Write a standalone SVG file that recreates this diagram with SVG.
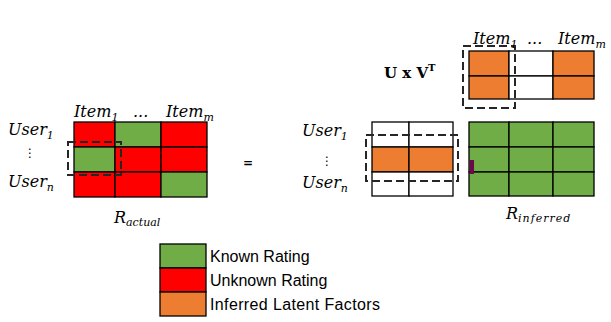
<svg xmlns="http://www.w3.org/2000/svg" width="611" height="322" viewBox="0 0 611 322">
<style>
.g{fill:#70ad47}.r{fill:#ff0000}.o{fill:#ed7d31}.w{fill:#ffffff}
.cell{stroke:#000;stroke-width:1.3}
.dash{fill:none;stroke:#262626;stroke-width:2;stroke-dasharray:8 4}
.m{font-family:"DejaVu Serif","Liberation Serif",serif;font-style:italic;font-size:16px;fill:#000}
.sub{font-size:11px}
.leg{font-family:"Liberation Sans",Arial,sans-serif;font-size:16px;fill:#000}
.dots{font-family:"DejaVu Sans",sans-serif;font-size:12px;fill:#000}
</style>
<rect width="611" height="322" fill="#ffffff"/>

<g id="r_actual">
  <rect class="r cell" x="74" y="122" width="41" height="25"/>
  <rect class="g cell" x="115" y="122" width="46" height="25"/>
  <rect class="r cell" x="161" y="122" width="46" height="25"/>
  <rect class="g cell" x="74" y="147" width="41" height="25"/>
  <rect class="r cell" x="115" y="147" width="46" height="25"/>
  <rect class="r cell" x="161" y="147" width="46" height="25"/>
  <rect class="r cell" x="74" y="172" width="41" height="25"/>
  <rect class="r cell" x="115" y="172" width="46" height="25"/>
  <rect class="g cell" x="161" y="172" width="46" height="25"/>
  <rect class="dash" x="68" y="142" width="53" height="33"/>
  <text class="m" x="74" y="116.5">Item<tspan class="sub" dy="4">1</tspan></text>
  <text class="m" x="133" y="117" font-style="normal" font-size="12">...</text>
  <text class="m" x="166" y="116.5">Item<tspan class="sub" dy="4">m</tspan></text>
  <text class="m" x="8" y="135">User<tspan class="sub" dy="4">1</tspan></text>
  <text class="dots" x="24" y="157">⋮</text>
  <text class="m" x="8" y="187">User<tspan class="sub" dy="4">n</tspan></text>
  <text class="m" x="114" y="223">R<tspan class="sub" dy="3">actual</tspan></text>
</g>

<g id="equals">
  <text x="243" y="167" font-family="DejaVu Sans,sans-serif" font-weight="bold" font-size="12" fill="#000">=</text>
</g>

<g id="v_t">
  <rect class="o cell" x="469" y="51" width="40" height="25"/>
  <rect class="w cell" x="509" y="51" width="44" height="25"/>
  <rect class="o cell" x="553" y="51" width="41" height="25"/>
  <rect class="o cell" x="469" y="76" width="40" height="23"/>
  <rect class="w cell" x="509" y="76" width="44" height="23"/>
  <rect class="o cell" x="553" y="76" width="41" height="23"/>
  <rect class="dash" x="463" y="46" width="52" height="62"/>
  <text class="m" x="473" y="44">Item<tspan class="sub" dy="4">1</tspan></text>
  <text class="m" x="527" y="44" font-style="normal" font-size="12">...</text>
  <text class="m" x="558" y="44">Item<tspan class="sub" dy="4">m</tspan></text>
  <text x="384" y="78" font-family="DejaVu Serif,serif" font-weight="bold" font-size="15" fill="#000">U x V<tspan font-size="10" dy="-7">T</tspan></text>
</g>

<g id="u">
  <rect class="w cell" x="372" y="122" width="37" height="25"/>
  <rect class="w cell" x="409" y="122" width="44" height="25"/>
  <rect class="o cell" x="372" y="147" width="37" height="25"/>
  <rect class="o cell" x="409" y="147" width="44" height="25"/>
  <rect class="w cell" x="372" y="172" width="37" height="24"/>
  <rect class="w cell" x="409" y="172" width="44" height="24"/>
  <rect class="dash" x="366" y="135" width="92" height="46"/>
  <text class="m" x="302" y="135.5">User<tspan class="sub" dy="4">1</tspan></text>
  <text class="dots" x="321" y="165">⋮</text>
  <text class="m" x="302" y="188">User<tspan class="sub" dy="4">n</tspan></text>
</g>

<g id="r_inferred">
  <rect class="g cell" x="469" y="122" width="40" height="25"/>
  <rect class="g cell" x="509" y="122" width="44" height="25"/>
  <rect class="g cell" x="553" y="122" width="41" height="25"/>
  <rect class="g cell" x="469" y="147" width="40" height="25"/>
  <rect class="g cell" x="509" y="147" width="44" height="25"/>
  <rect class="g cell" x="553" y="147" width="41" height="25"/>
  <rect class="g cell" x="469" y="172" width="40" height="24"/>
  <rect class="g cell" x="509" y="172" width="44" height="24"/>
  <rect class="g cell" x="553" y="172" width="41" height="24"/>
  <rect x="469.5" y="160" width="4.5" height="14" fill="#6a0a48"/>
  <text class="m" x="506" y="219">R<tspan class="sub" dy="3" letter-spacing="1">inferred</tspan></text>
</g>

<g id="legend">
  <rect class="g cell" x="160" y="244" width="46" height="24"/>
  <rect class="r cell" x="160" y="268" width="46" height="24"/>
  <rect class="o cell" x="160" y="292" width="46" height="24"/>
  <text class="leg" x="210" y="261.5">Known Rating</text>
  <text class="leg" x="210" y="285.5">Unknown Rating</text>
  <text class="leg" x="210" y="309.5" textLength="170" lengthAdjust="spacing">Inferred Latent Factors</text>
</g>
<g id="connectors"></g>
</svg>
